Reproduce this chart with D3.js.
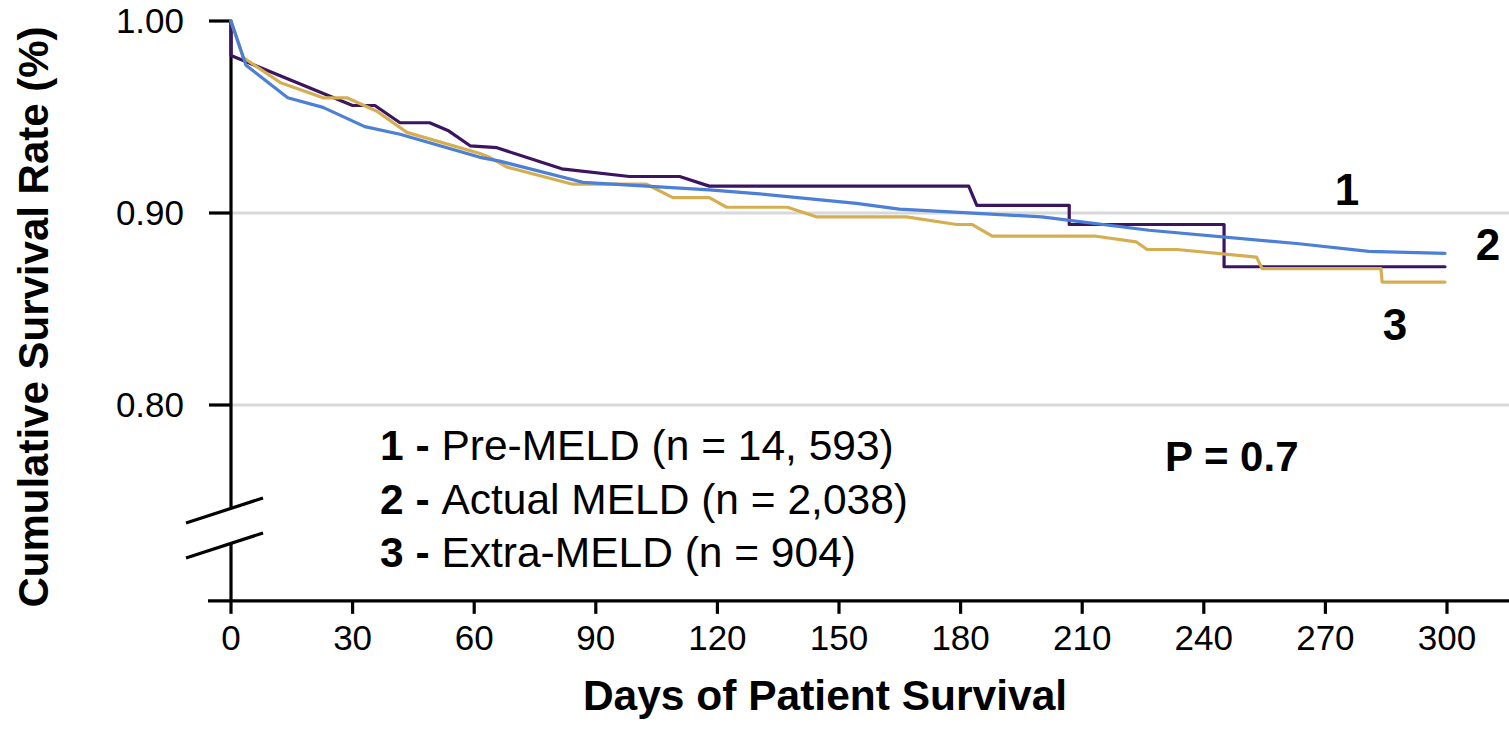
<!DOCTYPE html>
<html><head><meta charset="utf-8">
<script src="https://cdn.jsdelivr.net/npm/d3@7"></script>
<style>
html,body{margin:0;padding:0;background:#fff;}
svg{display:block;font-family:"Liberation Sans",Arial,sans-serif;}
</style></head>
<body>
<svg id="chart" width="1509" height="731"></svg>
<script>
// ---- data ----
const xTicks = [0,30,60,90,120,150,180,210,240,270,300];
const yTicks = [0.80,0.90,1.00];
const yTickLabels = ["0.80","0.90","1.00"];
const gridValues = [0.80,0.90];

const preMeldDays   = [0,0,30,35.5,41.7,49,53.5,59,65.6,81.6,98.3,110.7,118,182,184,206.8,206.8,245,245,299.5];
const preMeldSurv   = [1.000,0.982,0.956,0.956,0.947,0.947,0.943,0.935,0.934,0.923,0.919,0.919,0.914,0.914,0.904,0.904,0.894,0.894,0.872,0.872];

const actualDays    = [0,3.7,14,22.7,33,41.7,61.4,66.3,86.8,102.5,118,130.4,154.3,164.9,200,226.5,263.5,280.7,299.5];
const actualSurv    = [1.000,0.977,0.960,0.955,0.945,0.941,0.929,0.927,0.916,0.914,0.912,0.910,0.905,0.902,0.898,0.891,0.884,0.880,0.879];

const extraDays     = [0,3,12.1,22.7,28.6,36,43.4,61.4,63.8,68,84.3,102.5,109,118,122.3,137.3,144.4,166.6,179,182.9,187.8,213,223.3,226,233.4,253,254.4,283.7,284,299.5];
const extraSurv     = [1.000,0.981,0.968,0.960,0.960,0.953,0.942,0.931,0.929,0.924,0.915,0.915,0.908,0.908,0.903,0.903,0.898,0.898,0.894,0.894,0.888,0.888,0.885,0.881,0.881,0.877,0.871,0.871,0.864,0.864];

const seriesNames  = ["Pre-MELD","Actual MELD","Extra-MELD"];
const seriesNums   = ["1","2","3"];
const seriesCounts = ["14, 593","2,038","904"];
const pValueText   = "P = 0.7";
const xTitle = "Days of Patient Survival";
const yTitle = "Cumulative Survival Rate (%)";

// ---- layout ----
const svg = d3.select("#chart");
const x = d3.scaleLinear().domain([0,300]).range([231,1447]);
const y = d3.scaleLinear().domain([0.8,1.0]).range([405,21]);
const yBottom = 0.698;          // value at x-axis position
const axisY = y(yBottom);
const breakTop = 508, breakBottom = 544;
const colors = ["#3c1561","#4c7fd6","#d6ae52"];

// gridlines
svg.append("g").selectAll("line").data(gridValues).join("line")
  .attr("x1", x(0)).attr("x2", 1509)
  .attr("y1", d=>y(d)).attr("y2", d=>y(d))
  .attr("stroke", "#d9d9d9").attr("stroke-width", 3);

// axes
const ax = svg.append("g").attr("stroke","#000").attr("stroke-width",3.2).attr("fill","none");
ax.append("line").attr("x1", x(0)).attr("x2", x(0)).attr("y1", y(1.0)).attr("y2", breakTop);
ax.append("line").attr("x1", x(0)).attr("x2", x(0)).attr("y1", breakBottom).attr("y2", axisY+13);
ax.append("line").attr("x1", 208).attr("x2", 1509).attr("y1", axisY).attr("y2", axisY);
ax.selectAll(".yt").data(yTicks).join("line")
  .attr("x1", 209).attr("x2", x(0)).attr("y1", d=>y(d)).attr("y2", d=>y(d));
ax.selectAll(".xt").data(xTicks.slice(1)).join("line")
  .attr("x1", d=>x(d)).attr("x2", d=>x(d)).attr("y1", axisY).attr("y2", axisY+13);
// break marks
[0, 35].forEach(off=>{
  ax.append("line").attr("x1",186).attr("y1",523+off).attr("x2",263).attr("y2",498+off);
});

// tick labels
svg.append("g").selectAll("text").data(yTicks).join("text")
  .attr("x", 184).attr("y", d=>y(d)+12)
  .attr("text-anchor","end").attr("font-size",35)
  .text((d,i)=>yTickLabels[i]);
svg.append("g").selectAll("text").data(xTicks).join("text")
  .attr("x", d=>x(d)).attr("y", axisY+49)
  .attr("text-anchor","middle").attr("font-size",35)
  .text(d=>d);

// titles
svg.append("text").attr("x", 825).attr("y", 710).attr("text-anchor","middle")
  .attr("font-size",42.5).attr("font-weight","bold").text(xTitle);
svg.append("text").attr("transform","translate(48,317) rotate(-90)").attr("text-anchor","middle")
  .attr("font-size",42).attr("font-weight","bold").text(yTitle);

// curves
const line = d3.line().x(d=>x(d[0])).y(d=>y(d[1]));
const curves = [
  {days:preMeldDays, surv:preMeldSurv, c:colors[0]},
  {days:extraDays, surv:extraSurv, c:colors[2]},
  {days:actualDays, surv:actualSurv, c:colors[1]}
];
curves.forEach(s=>{
  svg.append("path").datum(d3.zip(s.days, s.surv)).attr("d", line)
    .attr("fill","none").attr("stroke", s.c).attr("stroke-width",3.2)
    .attr("stroke-linejoin","round").attr("stroke-linecap","round");
});

// curve labels
const lab = svg.append("g").attr("font-size",44).attr("font-weight","bold").attr("text-anchor","middle");
lab.append("text").attr("x",1347).attr("y",205).text(seriesNums[0]);
lab.append("text").attr("x",1488).attr("y",260).text(seriesNums[1]);
lab.append("text").attr("x",1395).attr("y",340).text(seriesNums[2]);

// legend
const lg = svg.append("g").attr("font-size",42.5);
seriesNames.forEach((n,i)=>{
  const t = lg.append("text").attr("x",380).attr("y",460+i*53.5);
  t.append("tspan").attr("font-weight","bold").text(seriesNums[i]+" - ");
  t.append("tspan").text(n+" (n = "+seriesCounts[i]+")");
});
svg.append("text").attr("x",1165).attr("y",471).attr("font-size",42).attr("font-weight","bold").text(pValueText);
</script>
</body></html>
